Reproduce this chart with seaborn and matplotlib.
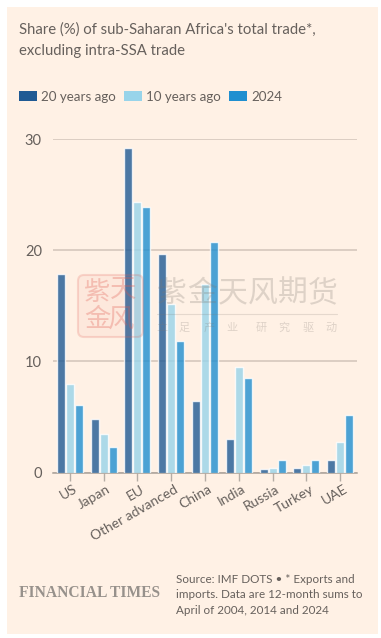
import numpy as np
import pandas as pd
import seaborn as sns
import matplotlib
matplotlib.use('Agg')
import matplotlib.pyplot as plt
from matplotlib.patches import Rectangle, FancyBboxPatch, Patch
from matplotlib.transforms import ScaledTranslation

#   data
countries = ['US', 'Japan', 'EU', 'Other advanced', 'China', 'India', 'Russia', 'Turkey', 'UAE']
years20 = [17.9, 4.8, 29.2, 19.7, 6.4, 3.0, 0.3, 0.4, 1.1]
years10 = [8.0, 3.5, 24.3, 15.2, 17.0, 9.5, 0.4, 0.7, 2.7]
now2024 = [6.1, 2.3, 23.9, 11.8, 20.7, 8.5, 1.1, 1.1, 5.2]
yticks = [0, 10, 20, 30]
seriesNames = ['20 years ago', '10 years ago', '2024']
seriesColors = ['#1f5a94', '#98d4ea', '#1f8fd0']

W, H = 381, 638
textCol = '#66605c'
panelCol = '#fff1e5'

sns.set_theme(style='white')
plt.rcParams['font.family'] = ['Lato', 'Noto Sans CJK SC', 'DejaVu Sans']

df = pd.DataFrame({'country': countries, seriesNames[0]: years20,
                   seriesNames[1]: years10, seriesNames[2]: now2024})
df = df.melt(id_vars='country', var_name='series', value_name='share')

fig = plt.figure(figsize=(W / 100, H / 100), dpi=100, facecolor='white')

#   background panel, pixel coords
bg = fig.add_axes([0, 0, 1, 1], zorder=0)
bg.set_xlim(0, W)
bg.set_ylim(H, 0)
bg.axis('off')
bg.add_patch(Rectangle((7, 7), 371, 627, fc=panelCol, ec='none'))

#   main chart
ax = fig.add_axes([53 / W, (H - 472.5) / H, 304 / W, 333.5 / H], zorder=1)
ax.patch.set_alpha(0)
sns.barplot(data=df, x='country', y='share', hue='series', hue_order=seriesNames,
            palette=seriesColors, width=0.8, gap=0.11, alpha=0.8, saturation=1,
            legend=False, ax=ax, zorder=3)
ax.set_xlim(-0.5, 8.5)
ax.set_ylim(0, 30)
ax.set_xlabel('')
ax.set_ylabel('')
ax.set_yticks(yticks)
ax.yaxis.grid(True, color='#d6c8bd', lw=1.2)
ax.set_axisbelow(True)
sns.despine(ax=ax, left=True, top=True, right=True)
ax.spines['bottom'].set_color('#a8a098')
ax.spines['bottom'].set_linewidth(1.1)
ax.tick_params(axis='y', length=0, pad=8, labelsize=10.5, labelcolor=textCol)
ax.tick_params(axis='x', bottom=True, length=6, width=1, color='#b5ada5', pad=1.5,
               labelsize=10, labelcolor=textCol)
plt.setp(ax.get_xticklabels(), rotation=30, ha='right', rotation_mode='anchor')
shift = ScaledTranslation(3 / 100, 0, fig.dpi_scale_trans)     #   labels sit a bit right of the tick
for lab in ax.get_xticklabels():
    lab.set_transform(lab.get_transform() + shift)

#   title
bg.text(19, 29.5, "Share (%) of sub-Saharan Africa's total trade*,", fontsize=10.7,
        color=textCol, va='center', ha='left')
bg.text(19, 50.5, 'excluding intra-SSA trade', fontsize=10.7, color=textCol, va='center', ha='left')

#   legend
handles = [Patch(fc=c, ec='none') for c in seriesColors]
fig.legend(handles, seriesNames, ncol=3, loc='center left', bbox_to_anchor=(6.5 / W, (H - 97) / H),
           frameon=False, fontsize=9.6, labelcolor=textCol, handlelength=1.4, handleheight=0.75,
           handletextpad=0.28, columnspacing=0.6)

#   footer
bg.text(19, 593, 'FINANCIAL TIMES', family='Liberation Serif', fontweight='bold', fontsize=11.2,
        color='#97918b', va='center', ha='left')
for yy, line in zip([579.5, 595, 610],
                    ['Source: IMF DOTS \u2022 * Exports and', 'imports. Data are 12-month sums to',
                     'April of 2004, 2014 and 2024']):
    bg.text(176, yy, line, fontsize=8.35, color=textCol, va='center', ha='left')

#   watermark on top of the bars
wm = fig.add_axes([0, 0, 1, 1], zorder=2)
wm.set_xlim(0, W)
wm.set_ylim(H, 0)
wm.axis('off')
wm.patch.set_alpha(0)
sealCol = '#e05a50'
wm.add_patch(FancyBboxPatch((78, 275), 65, 62, boxstyle='round,pad=0,rounding_size=6',
                            fc=sealCol, ec='none', alpha=0.06))
wm.add_patch(FancyBboxPatch((78, 275), 65, 62, boxstyle='round,pad=0,rounding_size=6',
                            fc='none', ec=sealCol, lw=1.5, alpha=0.2))
for xx, yy, ch in [(97, 293, '紫'), (123, 289, '天'), (97, 320, '金'), (121, 320, '风')]:
    wm.text(xx, yy, ch, fontsize=19, color=sealCol, alpha=0.3, ha='center', va='center',
            family='Noto Sans CJK SC')
for i, ch in enumerate('紫金天风期货'):
    wm.text(172 + i * 30.2, 293, ch, fontsize=21.5, color='#7d7670', alpha=0.25, ha='center',
            va='center', family='Noto Sans CJK SC')
wm.plot([157, 337], [314, 314], color='#7d7670', alpha=0.2, lw=0.8)
for xx, ch in zip([162, 184, 209, 232, 261, 284, 308, 331], '立足产业研究驱动'):
    wm.text(xx, 328, ch, fontsize=8, color='#7d7670', alpha=0.25, ha='center', va='center',
            family='Noto Sans CJK SC')

fig.savefig('out.png', dpi=100, facecolor='white')
